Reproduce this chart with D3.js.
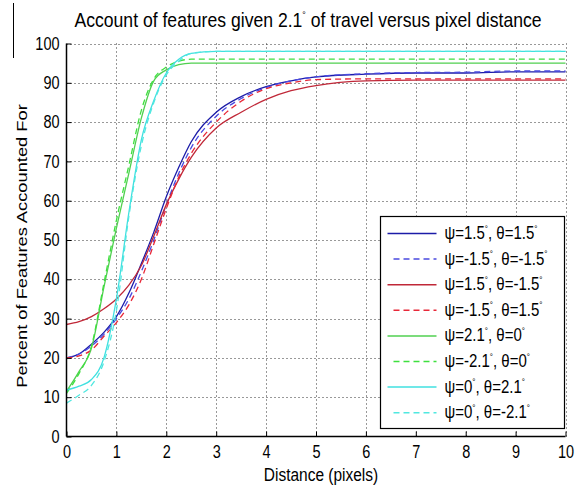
<!DOCTYPE html>
<html lang="en">
<head>
<meta charset="UTF-8">
<title>Account of features vs pixel distance</title>
<script src="https://d3js.org/d3.v7.min.js"></script>
<style>
  body { margin: 0; background: #fff; }
  svg text { font-family: "Liberation Sans", Arial, sans-serif; fill: #000; }
</style>
</head>
<body>
<svg id="plot" width="581" height="488"></svg>
<script>
// sample distances (pixels)
const xs = [0, 0.25, 0.5, 0.75, 1, 1.25, 1.5, 1.75, 2, 2.25, 2.5, 3, 3.5, 4, 4.5, 5, 6, 7, 8, 9, 10];

// percent of features accounted for, one array per run
const blueSolid  = [20, 21, 23.5, 26.5, 30.5, 36.5, 44, 52, 61, 68.5, 75, 82.5, 86.5, 89, 90.5, 91.5, 92.2, 92.5, 92.5, 92.8, 92.8];
const blueDash   = [20, 21, 23, 26, 30, 35, 42, 50, 59, 67, 73.5, 81.5, 86, 88.8, 90.5, 91.5, 92.3, 92.6, 92.7, 93, 93];
const redSolid   = [28.5, 29.2, 30.5, 32.5, 35, 38.5, 43.5, 51, 59, 65.5, 71, 78.5, 82.5, 85.8, 88, 89.3, 90.5, 90.7, 90.7, 90.7, 90.7];
const redDash    = [20, 20.5, 22, 25.5, 29, 33.5, 40, 49, 58, 66, 72, 80, 85.3, 88.5, 90, 90.8, 91, 91, 91, 91, 91];
const greenSolid = [11.5, 16.5, 22.5, 38, 53, 67, 81, 90.5, 93.3, 94.6, 95, 95, 95, 95, 95, 95, 95, 95, 95, 95, 95];
const greenDash  = [11, 16, 23, 39, 55, 69, 83, 91, 94, 95.5, 96, 96, 96, 96, 96, 96, 96, 96, 96, 96, 96];
const cyanSolid  = [11.8, 12.8, 14.5, 20, 35, 57, 75.5, 85.5, 92.5, 96, 97.5, 98, 98, 98, 98, 98, 98, 98, 98, 98, 98];
const cyanDash   = [8.5, 10.5, 13, 19, 32, 56, 74, 85, 92, 95.5, 97.5, 98, 98, 98, 98, 98, 98, 98, 98, 98, 98];

const labels = [
  ["\u03c8=1.5", ", \u03b8=1.5"],
  ["\u03c8=-1.5", ", \u03b8=-1.5"],
  ["\u03c8=1.5", ", \u03b8=-1.5"],
  ["\u03c8=-1.5", ", \u03b8=1.5"],
  ["\u03c8=2.1", ", \u03b8=0"],
  ["\u03c8=-2.1", ", \u03b8=0"],
  ["\u03c8=0", ", \u03b8=2.1"],
  ["\u03c8=0", ", \u03b8=-2.1"]
];
const colors = ["#1c1ca8", "#4a4ae0", "#c02838", "#e82838", "#50d050", "#3ee03e", "#40e0e0", "#50e8e0"];
const dashed = [false, true, false, true, false, true, false, true];
const series = [blueSolid, blueDash, redSolid, redDash, greenSolid, greenDash, cyanSolid, cyanDash];

const xTicks = d3.range(0, 11, 1);
const yTicks = d3.range(0, 101, 10);

const svg = d3.select("#plot");
const pLeft = 66.5, pRight = 565.5, pTop = 43.5, pBottom = 436.5;
const stretch = 1.22; // the scan is taller than it is wide, so text looks stretched vertically

const x = d3.scaleLinear().domain([0, 10]).range([pLeft, pRight]);
const y = d3.scaleLinear().domain([0, 100]).range([pBottom, pTop]);

// stray border line at the top-left of the scan
svg.append("line").attr("x1", 13.5).attr("x2", 13.5).attr("y1", 3).attr("y2", 58)
  .attr("stroke", "#000").attr("stroke-width", 1);

// dotted grid
const grid = svg.append("g");
grid.selectAll(".gx").data(xTicks.filter(d => d > 0)).join("line")
  .attr("x1", d => Math.round(x(d)) + 0.5).attr("x2", d => Math.round(x(d)) + 0.5)
  .attr("y1", pTop).attr("y2", pBottom)
  .attr("stroke", "#333").attr("stroke-dasharray", "1,3");
grid.selectAll(".gy").data(yTicks.filter(d => d > 0)).join("line")
  .attr("x1", pLeft).attr("x2", pRight)
  .attr("y1", d => Math.round(y(d)) + 0.5).attr("y2", d => Math.round(y(d)) + 0.5)
  .attr("stroke", "#333").attr("stroke-dasharray", "1,3");

// curves
const line = d3.line().x((d, i) => x(xs[i])).y(d => y(d)).curve(d3.curveMonotoneX);
series.forEach((s, i) => {
  svg.append("path").datum(s)
    .attr("d", line)
    .attr("fill", "none")
    .attr("stroke", colors[i])
    .attr("stroke-width", 1.3)
    .attr("stroke-dasharray", dashed[i] ? "6,4" : null);
});

// axes
const xAxis = d3.axisBottom(x).tickValues(xTicks).tickSize(-5).tickPadding(7).tickFormat(d3.format("d"));
const yAxis = d3.axisLeft(y).tickValues(yTicks).tickSize(-5).tickPadding(7).tickFormat(d3.format("d"));
const gx = svg.append("g").attr("transform", `translate(0,${pBottom})`).call(xAxis);
const gy = svg.append("g").attr("transform", `translate(${pLeft},0)`).call(yAxis);
[gx, gy].forEach(g => {
  g.select(".domain").attr("stroke", "#000").attr("stroke-width", 1.5);
  g.selectAll(".tick line").attr("stroke", "#000");
  g.selectAll(".tick text").attr("font-size", 14.5)
    .attr("font-family", "Liberation Sans, Arial, sans-serif")
    .attr("transform", `scale(1,${stretch})`);
});
gx.select(".domain").attr("d", `M${pLeft},0H${pRight}`);
gy.select(".domain").attr("d", `M0,${pBottom}V${pTop}`);

// text with the same vertical stretch as the scan
function stretchedText(px, py, size) {
  return svg.append("g").attr("transform", `translate(${px},${py}) scale(1,${stretch})`)
    .append("text").attr("font-size", size);
}

// legend
const lx = 380.5, ly = 216.5, lw = 184, lh = 212;
svg.append("rect").attr("x", lx).attr("y", ly).attr("width", lw).attr("height", lh)
  .attr("fill", "#fff").attr("stroke", "#000").attr("stroke-width", 1.2);
labels.forEach((lab, i) => {
  const cy = ly + 17 + i * 25.6;
  svg.append("line").attr("x1", lx + (dashed[i] ? 13 : 7)).attr("x2", lx + 56).attr("y1", cy).attr("y2", cy)
    .attr("stroke", colors[i]).attr("stroke-width", 1.5)
    .attr("stroke-dasharray", dashed[i] ? "6,4" : null);
  const t = stretchedText(lx + 64, cy + 5.5, 15);
  t.append("tspan").text(lab[0]);
  t.append("tspan").attr("dy", -6).attr("font-size", 8).text("\u00b0");
  t.append("tspan").attr("dy", 6).text(lab[1]);
  t.append("tspan").attr("dy", -6).attr("font-size", 8).text("\u00b0");
});

// title and axis labels
const title = svg.append("g").attr("transform", `translate(308,27) scale(1.1,${stretch})`)
  .append("text").attr("text-anchor", "middle").attr("font-size", 16);
title.append("tspan").text("Account of features given 2.1");
title.append("tspan").attr("dy", -7).attr("font-size", 8).text("\u00b0");
title.append("tspan").attr("dy", 7).text(" of travel versus pixel distance");

stretchedText(321, 481, 15.5).attr("text-anchor", "middle").text("Distance (pixels)");
svg.append("g").attr("transform", `translate(27,246) rotate(-90) scale(${stretch},1)`)
  .append("text").attr("text-anchor", "middle").attr("font-size", 15)
  .text("Percent of Features Accounted For");
</script>
</body>
</html>
